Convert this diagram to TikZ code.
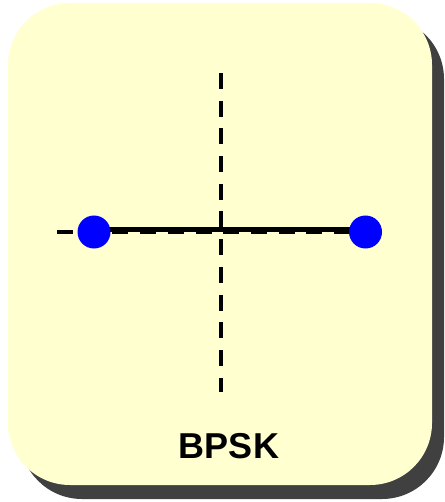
\documentclass[tikz,border=0pt]{standalone}
\usepackage{fontspec}
\setmainfont{Liberation Sans}
\definecolor{boxfill}{RGB}{255,255,208}
\definecolor{shadowgray}{RGB}{64,64,64}
\begin{document}
\begin{tikzpicture}[x=1pt,y=-1pt,
  panel/.style={rounded corners=62pt},
  axisline/.style={line width=4pt,dash pattern=on 16pt off 11.7pt},
  signalline/.style={line width=4.5pt},
  dot/.style={circle,fill=blue,inner sep=0pt,minimum size=33pt},
  label/.style={font=\fontsize{36}{42}\selectfont\bfseries,inner sep=0pt}]
\useasboundingbox (0,0) rectangle (444,502);
\fill[shadowgray,panel] (20,17) rectangle (444,499);
\fill[boxfill,panel] (8,3) rectangle (432,485);
\coordinate (hl) at (57,231.5);
\coordinate (hr) at (389,231.5);
\coordinate (vt) at (221,73);
\coordinate (vb) at (221,392);
\coordinate (s0) at (94,229.5);
\coordinate (s1) at (365.5,229.5);
\draw[axisline] (hl) -- (hr);
\draw[axisline] (vt) -- (vb);
\draw[signalline] (s0) -- (s1);
\node[dot] (p0) at (94,232) {};
\node[dot] (p1) at (365.5,232) {};
\node[label,anchor=base] (t) at (229,458) {BPSK};
\end{tikzpicture}
\end{document}
